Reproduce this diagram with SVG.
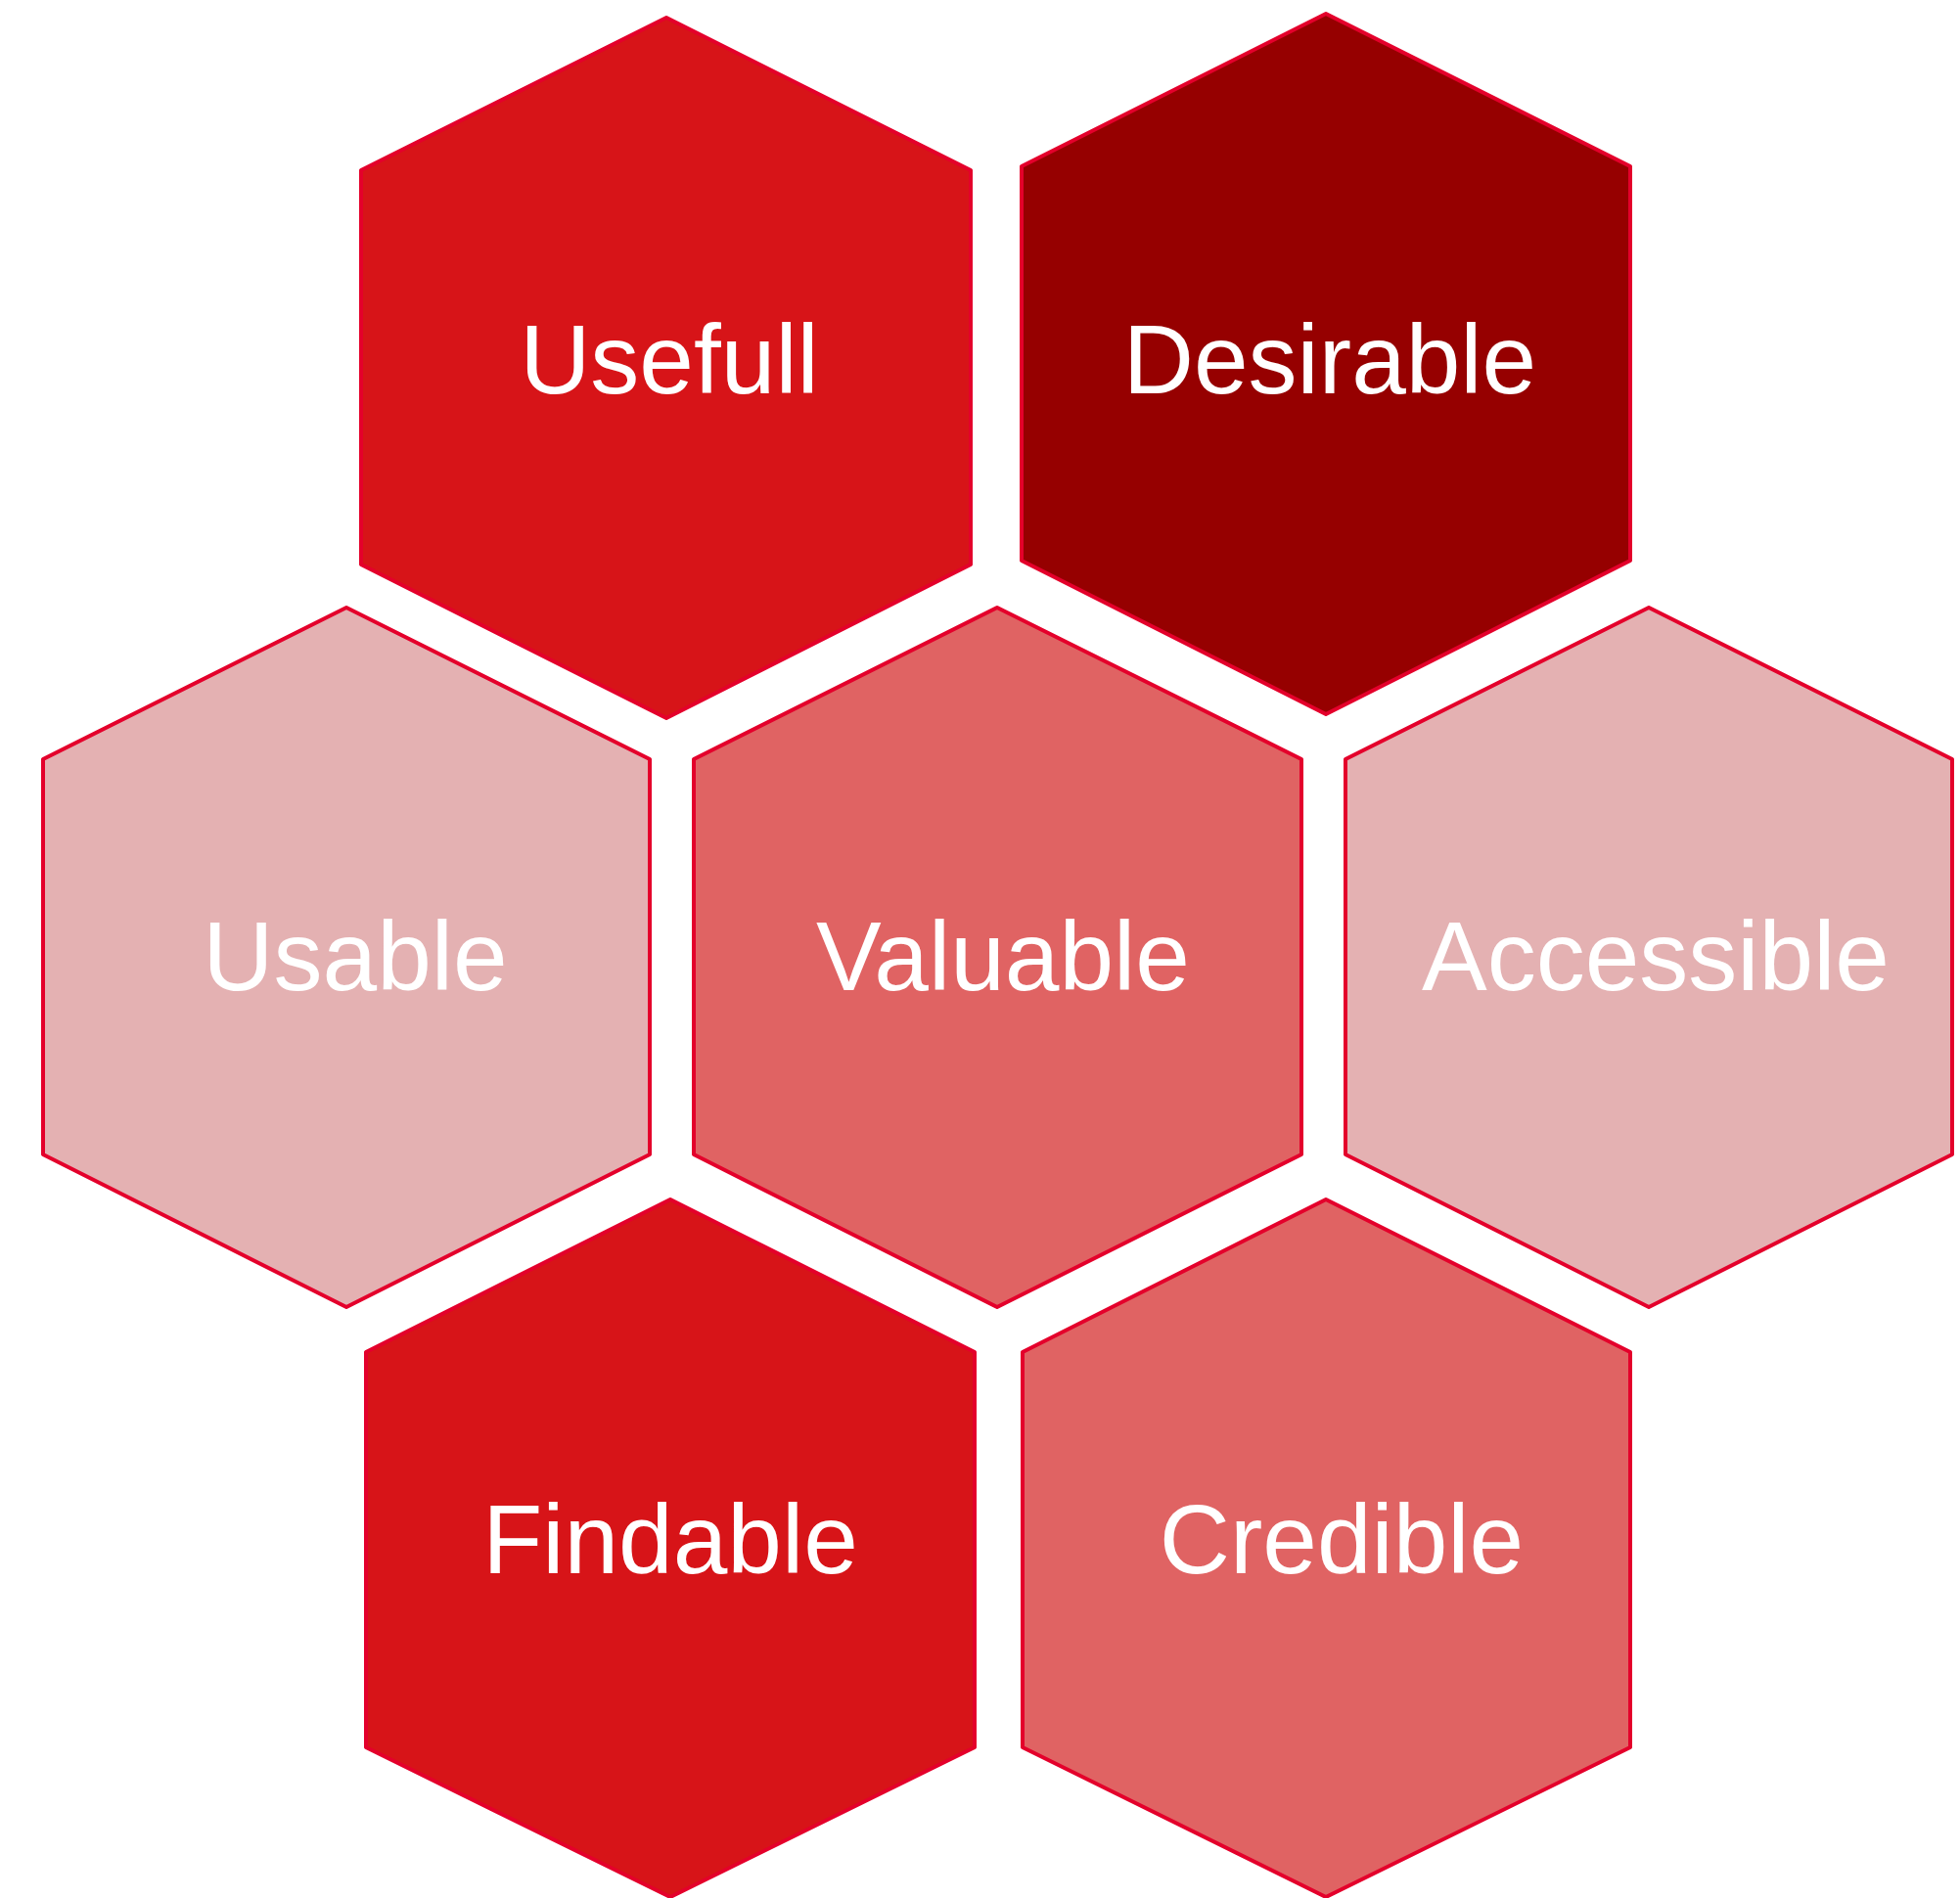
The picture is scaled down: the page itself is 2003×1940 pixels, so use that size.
<svg xmlns="http://www.w3.org/2000/svg" width="2003" height="1940" viewBox="0 0 2003 1940">
<style>
.hex{stroke:#E4002B;stroke-width:4;stroke-linejoin:round}
.t{font-family:"Liberation Sans",Arial,sans-serif;font-size:100px;fill:#FFFFFF;text-anchor:middle}
.c1{fill:#D71418}
.c2{fill:#960000}
.c3{fill:#E4B1B2}
.c4{fill:#E06363}
</style>
<rect width="2003" height="1940" fill="#FFFFFF"/>
<g id="usefull">
<polygon class="hex c1" points="681,18 992,174 992,577 681,734 369,577 369,174"/>
<text class="t" x="684" y="402">Usefull</text>
</g>
<g id="desirable">
<polygon class="hex c2" points="1355,14 1666,170 1666,573 1355,730 1044,573 1044,170"/>
<text class="t" x="1359" y="402">Desirable</text>
</g>
<g id="usable">
<polygon class="hex c3" points="354,621 664,776 664,1180 354,1336 44,1180 44,776"/>
<text class="t" x="363" y="1012">Usable</text>
</g>
<g id="valuable">
<polygon class="hex c4" points="1019,621 1330,776 1330,1180 1019,1336 709,1180 709,776"/>
<text class="t" x="1025" y="1012">Valuable</text>
</g>
<g id="accessible">
<polygon class="hex c3" points="1685,621 1995,776 1995,1180 1685,1336 1375,1180 1375,776"/>
<text class="t" x="1692" y="1012">Accessible</text>
</g>
<g id="findable">
<polygon class="hex c1" points="685,1226 996,1382 996,1786 685,1939 374,1786 374,1382"/>
<text class="t" x="685" y="1608">Findable</text>
</g>
<g id="credible">
<polygon class="hex c4" points="1355,1226 1666,1382 1666,1786 1355,1939 1045,1786 1045,1382"/>
<text class="t" x="1371" y="1608">Credible</text>
</g>
<g id="connectors"/>
</svg>
